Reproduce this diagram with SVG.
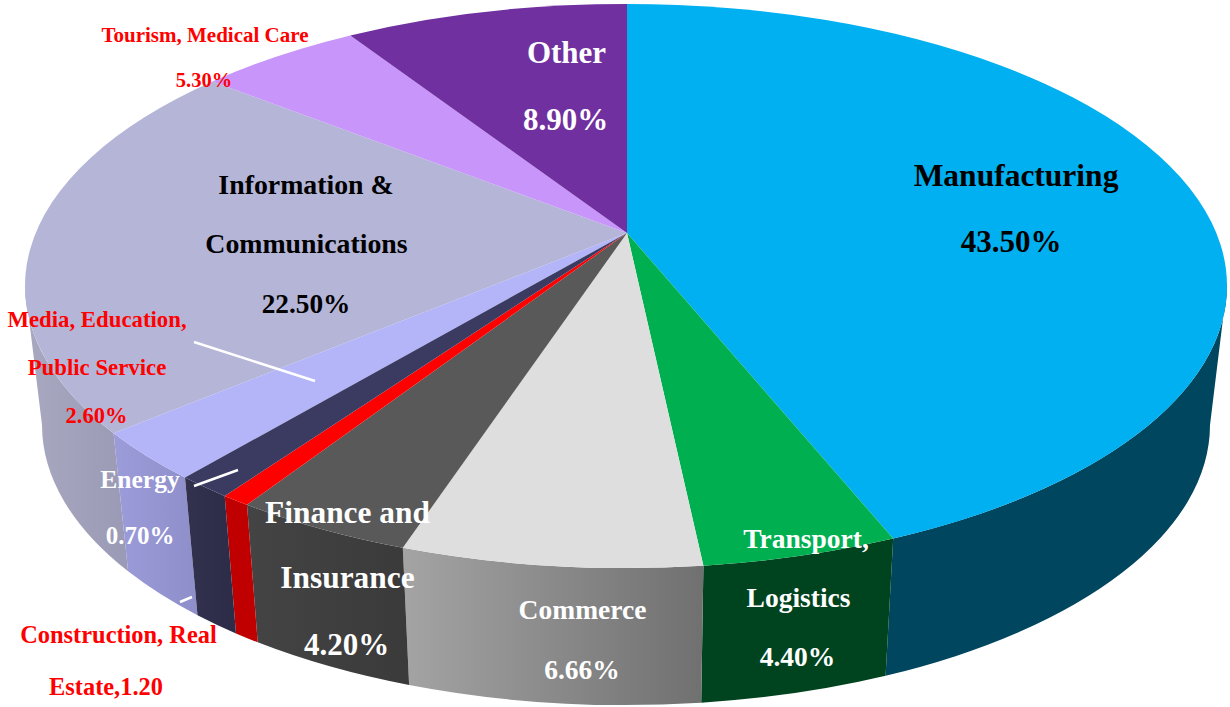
<svg xmlns="http://www.w3.org/2000/svg" width="1230" height="707" viewBox="0 0 1230 707">
<style>
text{font-family:"Liberation Serif","Times New Roman",serif;font-weight:bold;text-anchor:middle}
.w{fill:#FFFFFF}
.k{fill:#000000}
.r{fill:#FF0000}
.lead{stroke:#FFFFFF;stroke-width:2.5;fill:none}
</style>
<defs>
<linearGradient id="gCom" x1="0" y1="0" x2="1" y2="0"><stop offset="0" stop-color="#A4A4A4"/><stop offset="1" stop-color="#707070"/></linearGradient>
<linearGradient id="gFin" x1="0" y1="0" x2="1" y2="0"><stop offset="0" stop-color="#444444"/><stop offset="1" stop-color="#3A3A3A"/></linearGradient>
<linearGradient id="gMed" x1="0" y1="0" x2="1" y2="0"><stop offset="0" stop-color="#9C9CDA"/><stop offset="1" stop-color="#8E8ECA"/></linearGradient>
<linearGradient id="gInf" x1="0" y1="0" x2="1" y2="0"><stop offset="0" stop-color="#A8A8C0"/><stop offset="1" stop-color="#9A9AB6"/></linearGradient>
<linearGradient id="gEn" x1="0" y1="0" x2="1" y2="0"><stop offset="0" stop-color="#32324F"/><stop offset="1" stop-color="#2C2C48"/></linearGradient>
</defs>
<rect width="1230" height="707" fill="#FFFFFF"/>

<g id="information">
<path d="M113.6,433.3 A601,282 0 0,1 25,286 L42,425 A584,280 0 0,0 128.1,571.3 Z" fill="url(#gInf)"/>
<path d="M627,233 L113.6,433.3 A601,282 0 0,1 212.3,81.4 Z" fill="#B4B5D7"/>
<text class="k" x="306" y="194" font-size="27.8">Information &amp;</text>
<text class="k" x="306.5" y="253" font-size="27.8">Communications</text>
<text class="k" x="306" y="313" font-size="27.3">22.50%</text>
</g>

<g id="tourism">
<path d="M627,233 L212.3,81.4 A601,282 0 0,1 350.3,35.4 Z" fill="#C896FA"/>
<text class="r" x="205" y="42" font-size="21">Tourism, Medical Care</text>
<text class="r" x="204" y="87" font-size="20.5">5.30%</text>
</g>

<g id="other">
<path d="M627,233 L350.3,35.4 A601,282 0 0,1 627,4 Z" fill="#7030A0"/>
<text class="w" x="566.5" y="63" font-size="31">Other</text>
<text class="w" x="565.5" y="130" font-size="31">8.90%</text>
</g>

<g id="media">
<path d="M185,477.6 A601,282 0 0,1 113.6,433.3 L128.1,571.3 A584,280 0 0,0 197.5,615.2 Z" fill="url(#gMed)"/>
<path d="M627,233 L185,477.6 A601,282 0 0,1 113.6,433.3 Z" fill="#B4B4F8"/>
<text class="r" x="97" y="327" font-size="22.8">Media, Education,</text>
<text class="r" x="97" y="375" font-size="22.8">Public Service</text>
<text class="r" x="96.5" y="423" font-size="22.5">2.60%</text>
</g>

<g id="manufacturing">
<path d="M1227,286 A601,282 0 0,1 893.2,538.6 L885.6,675.8 A584,280 0 0,0 1210,425 Z" fill="#00465F"/>
<path d="M627,233 L627,4 A601,282 0 0,1 893.2,538.6 Z" fill="#00B0F0"/>
<text class="k" x="1016" y="186" font-size="31.5">Manufacturing</text>
<text class="k" x="1011" y="252" font-size="31">43.50%</text>
</g>

<g id="transport">
<path d="M893.2,538.6 A601,282 0 0,1 703.4,565.7 L701.2,702.7 A584,280 0 0,0 885.6,675.8 Z" fill="#00441F"/>
<path d="M627,233 L893.2,538.6 A601,282 0 0,1 703.4,565.7 Z" fill="#00B050"/>
<text class="w" x="806" y="548" font-size="27.5">Transport,</text>
<text class="w" x="798.5" y="607" font-size="27.5">Logistics</text>
<text class="w" x="797.5" y="666" font-size="27.5">4.40%</text>
</g>

<g id="commerce">
<path d="M703.4,565.7 A601,282 0 0,1 402.8,547.8 L409.1,685 A584,280 0 0,0 701.2,702.7 Z" fill="url(#gCom)"/>
<path d="M627,233 L703.4,565.7 A601,282 0 0,1 402.8,547.8 Z" fill="#DEDEDE"/>
<text class="w" x="582.5" y="619" font-size="27.5">Commerce</text>
<text class="w" x="582" y="679" font-size="27.5">6.66%</text>
</g>

<g id="finance">
<path d="M402.8,547.8 A601,282 0 0,1 247,504.8 L257.7,642.3 A584,280 0 0,0 409.1,685 Z" fill="url(#gFin)"/>
<path d="M627,233 L402.8,547.8 A601,282 0 0,1 247,504.8 Z" fill="#595959"/>
<text class="w" x="347.5" y="523" font-size="31.4">Finance and</text>
<text class="w" x="347.5" y="588" font-size="31.4">Insurance</text>
<text class="w" x="346.5" y="655" font-size="31">4.20%</text>
</g>

<g id="construction">
<path d="M247,504.8 A601,282 0 0,1 224.7,495.9 L236,633.4 A584,280 0 0,0 257.7,642.3 Z" fill="#C00000"/>
<path d="M627,233 L247,504.8 A601,282 0 0,1 224.7,495.9 Z" fill="#FF0000"/>
<text class="r" x="118.5" y="643" font-size="24.4">Construction, Real</text>
<text class="r" x="106" y="695" font-size="24.4">Estate,1.20</text>
</g>

<g id="energy">
<path d="M224.7,495.9 A601,282 0 0,1 185,477.6 L197.5,615.2 A584,280 0 0,0 236,633.4 Z" fill="url(#gEn)"/>
<path d="M627,233 L224.7,495.9 A601,282 0 0,1 185,477.6 Z" fill="#3B3B62"/>
<text class="w" x="140" y="488" font-size="25.5">Energy</text>
<text class="w" x="140" y="544" font-size="25">0.70%</text>
</g>

<g id="connectors">
<line class="lead" x1="194" y1="342" x2="315" y2="381"/>
<line class="lead" x1="194" y1="486" x2="238" y2="470"/>
<line class="lead" x1="180" y1="602" x2="192" y2="597"/>
</g>
</svg>
